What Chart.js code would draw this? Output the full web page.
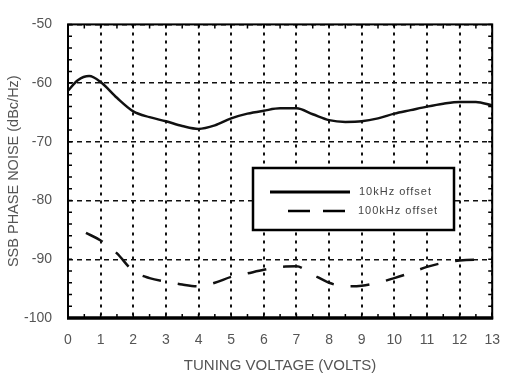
<!DOCTYPE html>
<html>
<head>
<meta charset="utf-8">
<script src="https://cdn.jsdelivr.net/npm/chart.js@4/dist/chart.umd.min.js"></script>
<style>
html,body{margin:0;padding:0;background:#fff;}
#wrap{width:514px;height:379px;}
</style>
</head>
<body>
<div id="wrap"><canvas id="c" width="514" height="379"></canvas></div>
<script>
const seriesNames = ["10kHz offset", "100kHz offset"];
const xTitle = "TUNING VOLTAGE (VOLTS)";
const yTitle = "SSB PHASE NOISE (dBc/Hz)";
const xTicks = [0,1,2,3,4,5,6,7,8,9,10,11,12,13];
const yTicks = [-50,-60,-70,-80,-90,-100];

const volts10k = [0,0.3,0.65,1,1.5,2,2.5,3,3.5,4,4.5,5,5.5,6,6.5,7,7.5,8,8.5,9,9.5,10,10.5,11,11.5,12,12.5,13];
const noise10k = [-61.3,-59.5,-58.8,-59.8,-62.5,-64.8,-65.8,-66.5,-67.3,-67.8,-67.2,-66,-65.2,-64.7,-64.3,-64.3,-65.3,-66.3,-66.6,-66.5,-66,-65.2,-64.6,-64,-63.5,-63.2,-63.2,-63.8];

const volts100k = [0.55,1,1.5,2,2.5,3,3.5,4,4.5,5,5.5,6,6.5,7,7.5,8,8.5,9,9.5,10,10.5,11,11.5,12,12.5,13];
const noise100k = [-85.5,-86.8,-89,-92,-93.2,-93.8,-94.3,-94.6,-94,-93,-92.4,-91.8,-91.3,-91.2,-92.6,-94,-94.6,-94.5,-94,-93.2,-92.3,-91.3,-90.6,-90.2,-90.1,-90.5];

const toPts = (xs, ys) => xs.map((x, i) => ({x: x, y: ys[i]}));

const framePlugin = {
  id: 'frame',
  afterDatasetsDraw(chart) {
    const {ctx, chartArea: a, scales} = chart;
    const xs = scales.x, ys = scales.y;
    ctx.save();
    ctx.strokeStyle = '#000';
    ctx.setLineDash([]);
    // minor ticks
    ctx.lineWidth = 1.5;
    ctx.beginPath();
    for (let v = 0; v <= 13; v += 0.5) {
      const px = xs.getPixelForValue(v);
      ctx.moveTo(px, a.top); ctx.lineTo(px, a.top + 4);
      ctx.moveTo(px, a.bottom); ctx.lineTo(px, a.bottom - 4);
    }
    for (let v = -100; v <= -50; v += 2) {
      const py = ys.getPixelForValue(v);
      ctx.moveTo(a.left, py); ctx.lineTo(a.left + 4, py);
      ctx.moveTo(a.right, py); ctx.lineTo(a.right - 4, py);
    }
    ctx.stroke();
    // frame
    ctx.lineWidth = 2;
    ctx.strokeRect(a.left, a.top, a.right - a.left, a.bottom - a.top);
    ctx.lineWidth = 3.5;
    ctx.beginPath();
    ctx.moveTo(a.left - 1, a.bottom); ctx.lineTo(a.right + 1, a.bottom);
    ctx.stroke();
    ctx.restore();
  },
  afterDraw(chart) {
    const {ctx} = chart;
    const ds = chart.data.datasets;
    ctx.save();
    const bx = 253, by = 168, bw = 201, bh = 62;
    ctx.fillStyle = '#fff';
    ctx.fillRect(bx, by, bw, bh);
    ctx.strokeStyle = '#000';
    ctx.lineWidth = 2.5;
    ctx.setLineDash([]);
    ctx.strokeRect(bx, by, bw, bh);
    // solid
    ctx.lineWidth = 3;
    ctx.beginPath(); ctx.moveTo(270, 192); ctx.lineTo(350, 192); ctx.stroke();
    ctx.setLineDash([22, 13]);
    ctx.lineWidth = 2.5;
    ctx.beginPath(); ctx.moveTo(288, 211); ctx.lineTo(347, 211); ctx.stroke();
    ctx.setLineDash([]);
    ctx.fillStyle = '#444';
    ctx.font = '11px "Liberation Sans", Arial, sans-serif';
    ctx.textBaseline = 'middle';
    ctx.textAlign = 'left';
    try { ctx.letterSpacing = '1px'; } catch (e) {}
    ctx.fillText(ds[0].label, 359, 192);
    ctx.fillText(ds[1].label, 358, 211);
    ctx.restore();
  }
};

new Chart(document.getElementById('c'), {
  type: 'line',
  data: {
    datasets: [
      {
        label: seriesNames[0],
        data: toPts(volts10k, noise10k),
        borderColor: '#111',
        borderWidth: 2.5,
        pointRadius: 0,
        cubicInterpolationMode: 'monotone',
        fill: false
      },
      {
        label: seriesNames[1],
        data: toPts(volts100k, noise100k),
        borderColor: '#111',
        borderWidth: 2.5,
        borderDash: [19, 17],
        pointRadius: 0,
        cubicInterpolationMode: 'monotone',
        fill: false
      }
    ]
  },
  options: {
    responsive: false,
    animation: false,
    devicePixelRatio: 1,
    layout: {padding: {top: 19, right: 11, left: 0, bottom: 0}},
    plugins: {legend: {display: false}, tooltip: {enabled: false}},
    scales: {
      x: {
        type: 'linear',
        min: 0, max: 13,
        afterBuildTicks: (s) => { s.ticks = xTicks.map(v => ({value: v})); },
        afterFit: (s) => { s.height = 61; },
        grid: {color: '#111', lineWidth: 2, drawTicks: false},
        border: {display: false, dash: [3, 5]},
        ticks: {
          color: '#555', padding: 14, maxRotation: 0, autoSkip: false,
          font: {family: '"Liberation Sans", Arial, sans-serif', size: 14}
        },
        title: {
          display: true, text: xTitle, color: '#555',
          padding: {top: 0, bottom: 4},
          font: {family: '"Liberation Sans", Arial, sans-serif', size: 15}
        }
      },
      y: {
        type: 'linear',
        min: -100, max: -50,
        afterBuildTicks: (s) => { s.ticks = yTicks.map(v => ({value: v})); },
        afterFit: (s) => { s.width = 68; },
        grid: {color: '#111', lineWidth: 1.5, drawTicks: false},
        border: {display: false, dash: [5, 4]},
        ticks: {
          color: '#555', padding: 16, autoSkip: false,
          font: {family: '"Liberation Sans", Arial, sans-serif', size: 14}
        },
        title: {
          display: true, text: yTitle, color: '#555',
          padding: {top: 5, bottom: 0},
          font: {family: '"Liberation Sans", Arial, sans-serif', size: 14.5}
        }
      }
    }
  },
  plugins: [framePlugin]
});
</script>
</body>
</html>
